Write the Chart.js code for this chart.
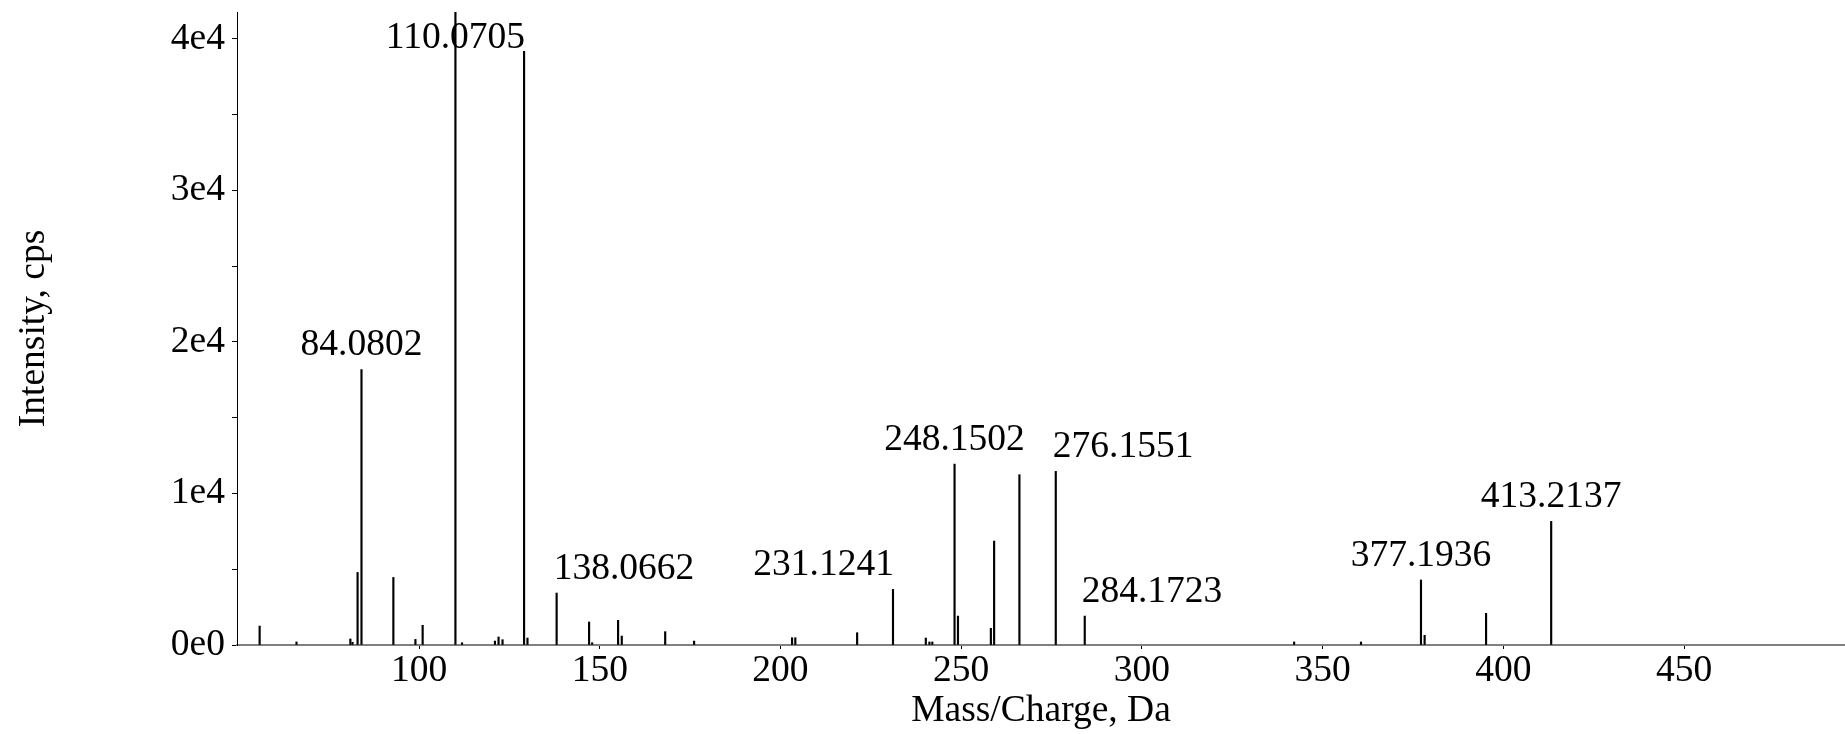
<!DOCTYPE html>
<html>
<head>
<meta charset="utf-8">
<script src="https://cdn.jsdelivr.net/npm/chart.js@4"></script>
<style>
  html, body { margin: 0; padding: 0; background: #fff; }
  canvas { display: block; }
</style>
</head>
<body>
<canvas id="spec" width="1845" height="734"></canvas>
<script>
// peaks (m/z, cps)
const mz = [55.9, 66.1, 81.0, 81.6, 83.0, 84.0802, 92.9, 99.0, 101.0, 110.0705,
  111.9, 121.0, 122.0, 123.1, 129.06, 130.0, 138.0662, 147.05, 147.9, 155.07,
  156.09, 168.1, 176.1, 203.2, 204.1, 221.2, 231.1241, 240.2, 241.2, 242.0,
  248.1502, 249.1, 258.2, 259.1, 266.1, 276.1551, 284.1723, 342.1, 360.6,
  377.1936, 378.2, 395.2, 413.2137];
const intensity = [1250, 200, 400, 180, 4790, 18180, 4460, 370, 1300, 42000,
  150, 260, 530, 350, 39180, 460, 3430, 1520, 150, 1630,
  590, 880, 260, 480, 480, 810, 3670, 460, 200, 200,
  11940, 1910, 1100, 6860, 11240, 11460, 1910, 200, 200,
  4290, 640, 2090, 8160];

// annotated peaks
const labelMz = [84.0802, 110.0705, 138.0662, 231.1241, 248.1502, 276.1551, 284.1723, 377.1936, 413.2137];
const labelAlign = ["center", "center", "left", "right", "center", "left", "left", "center", "center"];

const xTicks = [100, 150, 200, 250, 300, 350, 400, 450];
const yTicks = [0, 5000, 10000, 15000, 20000, 25000, 30000, 35000, 40000];
const yTickLabels = ["0e0", "1e4", "2e4", "3e4", "4e4"];

const FONT = "Liberation Serif";
const FS = 37.5;

const peakLabels = {
  id: "peakLabels",
  afterDatasetsDraw(chart) {
    const {ctx, scales: {x, y}, chartArea} = chart;
    ctx.save();
    ctx.font = `${FS}px "${FONT}"`;
    ctx.fillStyle = "#000";
    ctx.textBaseline = "alphabetic";
    labelMz.forEach((m, i) => {
      const k = mz.indexOf(m);
      const px = x.getPixelForValue(m);
      const top = Math.max(y.getPixelForValue(intensity[k]), chartArea.top + 50);
      const al = labelAlign[i];
      ctx.textAlign = al;
      const dx = al === "left" ? -3 : al === "right" ? 1 : 0;
      ctx.fillText(m.toFixed(4), px + dx, top - 14.5);
    });
    ctx.restore();
  }
};

new Chart(document.getElementById("spec"), {
  type: "bar",
  data: {
    datasets: [{
      data: mz.map((m, i) => ({x: m, y: intensity[i]})),
      backgroundColor: "#000",
      borderWidth: 0,
      barThickness: 1.5
    }]
  },
  options: {
    responsive: false,
    animation: false,
    layout: {padding: {top: 12, right: 0, left: 0, bottom: 0}},
    plugins: {legend: {display: false}, tooltip: {enabled: false}},
    scales: {
      x: {
        type: "linear",
        offset: false,
        min: 49.64,
        max: 494.5,
        afterBuildTicks: (s) => { s.ticks = xTicks.map(v => ({value: v})); },
        afterFit: (s) => { s.height = 89; s.paddingLeft = 0; s.paddingRight = 0; },
        border: {color: "#808080", width: 2},
        grid: {drawOnChartArea: false, offset: false, tickLength: 4, color: "#000"},
        ticks: {
          autoSkip: false, maxRotation: 0, padding: 0,
          color: "#000", font: {family: FONT, size: FS}
        },
        title: {
          display: true, text: "Mass/Charge, Da", color: "#000",
          font: {family: FONT, size: FS}, padding: {top: 0, bottom: 0}
        }
      },
      y: {
        min: 0,
        max: 41780,
        afterBuildTicks: (s) => { s.ticks = yTicks.map(v => ({value: v})); },
        afterFit: (s) => { s.width = 237; s.paddingTop = 0; s.paddingBottom = 0; },
        border: {color: "#000", width: 1},
        grid: {drawOnChartArea: false, tickLength: 5, color: "#000"},
        ticks: {
          padding: 7, color: "#000", font: {family: FONT, size: FS},
          callback: (v) => v % 10000 === 0 ? yTickLabels[v / 10000] : ""
        },
        title: {
          display: true, text: "Intensity, cps", color: "#000",
          font: {family: FONT, size: FS}, padding: {top: 12, bottom: 0}
        }
      }
    }
  },
  plugins: [peakLabels]
});
</script>
</body>
</html>
